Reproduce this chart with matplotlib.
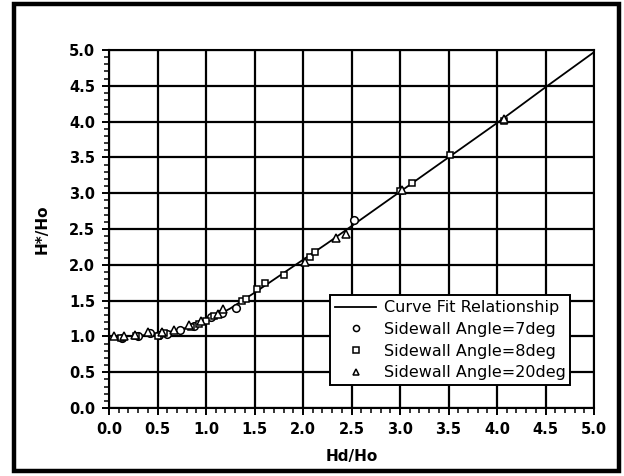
import matplotlib
matplotlib.use("Agg")
import matplotlib.pyplot as plt
from matplotlib.patches import Rectangle
from matplotlib.ticker import MultipleLocator

# curve fit relationship
fit_x = [0.0, 0.25, 0.5, 0.75, 1.0, 1.25, 1.5, 1.75, 2.0, 2.25, 2.5, 3.0, 3.5, 4.0, 4.5, 5.0]
fit_y = [1.0, 1.005, 1.03, 1.1, 1.21, 1.39, 1.61, 1.84, 2.07, 2.3, 2.54, 3.02, 3.5, 3.98, 4.48, 4.97]

# measured points, one list pair per sidewall angle
deg7_x = [0.13, 0.30, 0.42, 0.52, 0.60, 0.73, 0.88, 1.05, 1.17, 1.31, 2.53]
deg7_y = [0.98, 1.00, 1.05, 1.02, 1.04, 1.09, 1.14, 1.27, 1.33, 1.39, 2.63]

deg8_x = [0.12, 0.28, 0.50, 0.57, 0.85, 0.93, 1.00, 1.08, 1.37, 1.41, 1.53, 1.61, 1.80, 2.07, 2.12, 3.00, 3.12, 3.52, 4.07]
deg8_y = [0.98, 1.00, 1.01, 1.05, 1.13, 1.17, 1.21, 1.29, 1.49, 1.52, 1.66, 1.74, 1.86, 2.11, 2.18, 3.03, 3.14, 3.54, 4.01]

deg20_x = [0.05, 0.15, 0.27, 0.40, 0.55, 0.67, 0.82, 0.95, 1.12, 1.18, 2.02, 2.34, 2.44, 3.02, 4.07]
deg20_y = [1.01, 1.00, 1.02, 1.06, 1.06, 1.09, 1.16, 1.22, 1.31, 1.38, 2.04, 2.38, 2.43, 3.05, 4.03]

W, H = 624, 476
fig = plt.figure(figsize=(W / 100, H / 100), dpi=100)
ax = fig.add_axes([109 / W, 1 - 408 / H, (594 - 109) / W, (408 - 50) / H])

ax.plot(fit_x, fit_y, color="black", lw=1.3, label="Curve Fit Relationship", zorder=3)
mk = dict(ls="none", mfc="white", mec="black", mew=1.1, zorder=4)
ax.plot(deg7_x, deg7_y, marker="o", ms=5.5, label="Sidewall Angle=7deg", **mk)
ax.plot(deg8_x, deg8_y, marker="s", ms=5, label="Sidewall Angle=8deg", **mk)
ax.plot(deg20_x, deg20_y, marker="^", ms=6, label="Sidewall Angle=20deg", **mk)

ax.set_xlim(0, 5)
ax.set_ylim(0, 5)
ax.xaxis.set_major_locator(MultipleLocator(0.5))
ax.yaxis.set_major_locator(MultipleLocator(0.5))
ax.xaxis.set_minor_locator(MultipleLocator(0.1))
ax.yaxis.set_minor_locator(MultipleLocator(0.1))
ax.xaxis.set_major_formatter(lambda v, p: f"{v:.1f}")
ax.yaxis.set_major_formatter(lambda v, p: f"{v:.1f}")
ax.grid(True, which="major", color="black", lw=1.6, zorder=1)
ax.set_axisbelow(True)
for s in ax.spines.values():
    s.set_linewidth(1.5)
ax.tick_params(which="major", direction="out", length=5, width=1.4, pad=5,
               labelsize=10.5, colors="black")
ax.tick_params(which="minor", direction="out", length=3.5, width=1.1)
for t in ax.get_xticklabels() + ax.get_yticklabels():
    t.set_fontweight("bold")

ax.set_xlabel("Hd/Ho", fontsize=11, fontweight="bold", labelpad=9)
ax.set_ylabel("H*/Ho", fontsize=11, fontweight="bold", labelpad=14)

leg = ax.legend(loc="lower left", bbox_to_anchor=(0.456, 0.064), borderaxespad=0,
                fontsize=11.5, frameon=True, fancybox=False, framealpha=1,
                edgecolor="black", borderpad=0.3, labelspacing=0.42,
                handlelength=2.6, handletextpad=0.45, markerscale=0.8)
leg.get_frame().set_linewidth(1.4)

# outer border around the whole figure
fig.patches.append(Rectangle((14 / W, 5 / H), (619 - 14) / W, (472 - 5) / H,
                             transform=fig.transFigure, fill=False,
                             ec="black", lw=3.2))

fig.savefig("out.png", dpi=100)
